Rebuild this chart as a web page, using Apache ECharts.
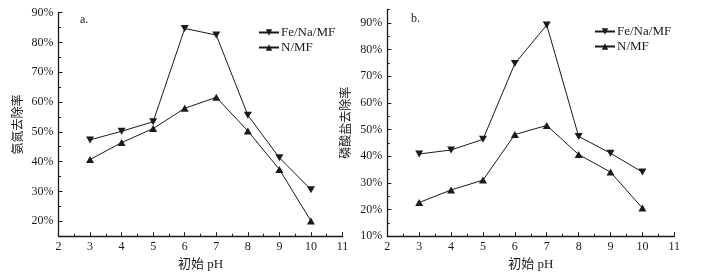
<!DOCTYPE html>
<html>
<head>
<meta charset="utf-8">
<script src="https://cdn.jsdelivr.net/npm/echarts@6/dist/echarts.min.js"></script>
<style>
    html, body { margin: 0; padding: 0; background: #fff; }
    #main { width: 703px; height: 276px; }
</style>
</head>
<body>
<div id="main"></div>
<script>
var phValues = [3, 4, 5, 6, 7, 8, 9, 10];
// 氨氮去除率 (%)
var nitroFe = [47.3, 50.2, 53.4, 84.7, 82.5, 55.6, 41.3, 30.6];
var nitroN = [40.7, 46.4, 51.1, 57.9, 61.6, 50.3, 37.4, 20.1];
// 磷酸盐去除率 (%)
var phosFe = [40.8, 42.3, 46.3, 74.7, 89.2, 47.4, 41.1, 34.0];
var phosN = [22.6, 27.3, 31.0, 48.1, 51.5, 40.6, 34.0, 20.5];
var leftMajor = [20, 30, 40, 50, 60, 70, 80, 90];
var leftMinor = [15, 25, 35, 45, 55, 65, 75, 85];
var rightMajor = [10, 20, 30, 40, 50, 60, 70, 80, 90];
var rightMinor = [15, 25, 35, 45, 55, 65, 75, 85, 95];

(function() {
    var myChart = echarts.init(document.getElementById('main'));
    var font = 'Liberation Serif, Noto Sans CJK SC';
    var ink = '#1a1a1a';

    function pairs(vals) {
        return phValues.map(function(x, i) {
            return [x, vals[i]];
        });
    }

    function xAxis(gridIndex) {
        return {
            type: 'value',
            gridIndex: gridIndex,
            min: 2,
            max: 11,
            interval: 1,
            name: '初始 pH',
            nameLocation: 'middle',
            nameGap: 18,
            nameTextStyle: { fontFamily: font, fontSize: 13, color: ink },
            axisLine: { lineStyle: { color: ink, width: 1.3 } },
            axisTick: { inside: true, length: 4, lineStyle: { color: ink } },
            minorTick: { show: true, splitNumber: 2, length: 2.5, lineStyle: { color: ink } },
            axisLabel: { fontFamily: font, fontSize: 12, color: ink, margin: 5 },
            splitLine: { show: false }
        };
    }

    function yAxis(gridIndex, min, max, major, name) {
        return {
            type: 'value',
            gridIndex: gridIndex,
            min: min,
            max: max,
            interval: 5,
            name: name,
            nameLocation: 'middle',
            nameGap: 34,
            nameTextStyle: { fontFamily: font, fontSize: 12, color: ink },
            axisLine: { show: true, lineStyle: { color: ink, width: 1.3 } },
            axisTick: { inside: true, length: 4, customValues: major, lineStyle: { color: ink } },
            axisLabel: {
                customValues: major,
                fontFamily: font,
                fontSize: 12,
                color: ink,
                margin: 5,
                formatter: '{value}%'
            },
            splitLine: { show: false }
        };
    }

    // second axis on the same side, only for the short in-between ticks
    function minorAxis(gridIndex, min, max, minor) {
        return {
            type: 'value',
            gridIndex: gridIndex,
            position: 'left',
            min: min,
            max: max,
            interval: 5,
            axisLine: { show: false },
            axisTick: { inside: true, length: 2.5, customValues: minor, lineStyle: { color: ink } },
            axisLabel: { show: false },
            splitLine: { show: false }
        };
    }

    function line(name, xi, yi, vals, rotate) {
        return {
            name: name,
            type: 'line',
            xAxisIndex: xi,
            yAxisIndex: yi,
            data: pairs(vals),
            symbol: 'triangle',
            symbolSize: [8, 7],
            symbolRotate: rotate,
            itemStyle: { color: ink },
            lineStyle: { color: ink, width: 1 },
            animation: false
        };
    }

    function legend(left, top) {
        return {
            orient: 'vertical',
            left: left,
            top: top,
            itemWidth: 20,
            itemHeight: 8,
            itemGap: 2,
            padding: 0,
            data: ['Fe/Na/MF', 'N/MF'],
            textStyle: { fontFamily: font, fontSize: 13, color: ink, padding: [0, 0, 0, -3] }
        };
    }

    var option = {
        backgroundColor: '#fff',
        title: [{
            text: 'a.',
            left: 75,
            top: 9,
            textStyle: { fontFamily: font, fontSize: 12, fontWeight: 'normal', color: ink }
        }, {
            text: 'b.',
            left: 406,
            top: 8,
            textStyle: { fontFamily: font, fontSize: 12, fontWeight: 'normal', color: ink }
        }],
        legend: [legend(258, 26), legend(594, 25)],
        grid: [{
            left: 58.5,
            right: 360.5,
            top: 12.7,
            bottom: 34.3
        }, {
            left: 387.3,
            right: 28.7,
            top: 9.5,
            bottom: 34
        }],
        xAxis: [xAxis(0), xAxis(1)],
        yAxis: [
            yAxis(0, 15, 90, leftMajor, '氨氮去除率'),
            minorAxis(0, 15, 90, leftMinor),
            yAxis(1, 10, 95, rightMajor, '磷酸盐去除率'),
            minorAxis(1, 10, 95, rightMinor)
        ],
        series: [
            line('Fe/Na/MF', 0, 0, nitroFe, 180),
            line('N/MF', 0, 0, nitroN, 0),
            line('Fe/Na/MF', 1, 2, phosFe, 180),
            line('N/MF', 1, 2, phosN, 0)
        ]
    };
    myChart.setOption(option);
})();
</script>
</body>
</html>
